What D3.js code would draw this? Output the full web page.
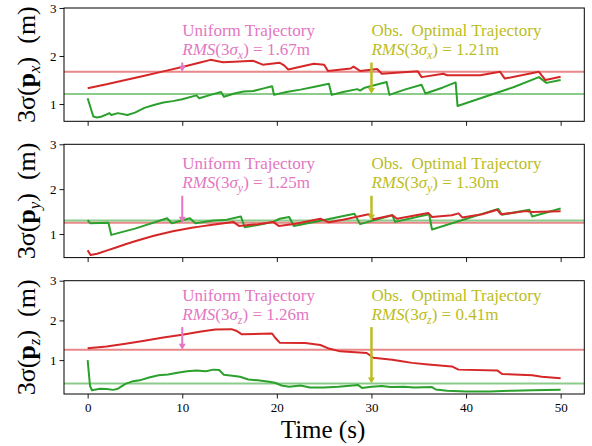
<!DOCTYPE html>
<html><head><meta charset="utf-8">
<script src="https://cdn.jsdelivr.net/npm/d3@7"></script>
<style>body{margin:0;background:#fff}</style>
</head><body><svg id="c" width="592" height="446"></svg>
<script>
// ---------- data ----------
const timeTicks = [0, 10, 20, 30, 40, 50];
const yTicks = [1, 2, 3];
const axisNames = ["x", "y", "z"];
const yMins = [0.64, 0.474, 0.146];
const rmsUniform = [1.67, 1.25, 1.26];
const rmsOptimal = [1.21, 1.30, 0.41];
const uniformLabel = "Uniform Trajectory";
const optimalLabel = "Obs.  Optimal Trajectory";
const annotTimes = [10, 30];

const uniformX = [[0,1.33],[2,1.41],[4,1.50],[6,1.59],[8,1.68],[10,1.77],[12,1.87],[13,1.92],[14.3,1.87],[15.5,1.88],[16.5,1.89],[17.5,1.90],[18.5,1.82],[20.3,1.86],[20.8,1.80],[21.2,1.72],[23.9,1.84],[25.0,1.82],[25.4,1.69],[27.8,1.74],[28.1,1.78],[28.8,1.69],[30.6,1.73],[31.1,1.63],[34.9,1.68],[35.3,1.56],[37.6,1.63],[38.0,1.60],[41.5,1.60],[43.6,1.67],[44.1,1.53],[47.7,1.67],[48.4,1.50],[50,1.57]];
const optimalX = [[0,1.12],[0.6,0.74],[1.0,0.72],[1.5,0.74],[2.3,0.81],[2.5,0.77],[3.2,0.81],[4.2,0.77],[5.0,0.82],[6.0,0.92],[7.0,0.98],[8.0,1.03],[9.0,1.06],[10.0,1.10],[11.5,1.18],[11.8,1.12],[13.0,1.19],[14.1,1.25],[14.4,1.15],[15.5,1.22],[16.5,1.26],[17.5,1.27],[18.5,1.32],[19.5,1.37],[19.7,1.19],[21.0,1.25],[22.5,1.30],[24.0,1.36],[25.5,1.42],[25.8,1.19],[27.0,1.25],[28.5,1.31],[28.8,1.28],[29.3,1.34],[30.5,1.40],[31.6,1.46],[31.9,1.19],[33.5,1.30],[35.3,1.40],[35.7,1.22],[37.5,1.34],[38.9,1.45],[39.1,0.96],[42,1.15],[45,1.35],[47.7,1.56],[48.5,1.44],[50,1.50]];

const uniformY = [[0,0.64],[0.3,0.53],[1,0.56],[2,0.63],[3,0.70],[4,0.77],[5,0.84],[6,0.90],[7,0.96],[8,1.01],[9,1.06],[10,1.10],[11,1.14],[12,1.17],[13,1.20],[14,1.23],[15.4,1.27],[16.0,1.18],[18,1.22],[19.6,1.27],[20.2,1.18],[22,1.23],[24.6,1.34],[25.5,1.26],[27,1.32],[28.6,1.39],[29.7,1.44],[30.2,1.33],[32.2,1.42],[32.7,1.34],[34,1.39],[36,1.47],[36.4,1.38],[38.5,1.42],[39.2,1.46],[39.6,1.37],[41.7,1.44],[43.3,1.54],[43.7,1.44],[46.3,1.51],[47,1.49],[50,1.51]];
const optimalY = [[0,1.31],[0.26,1.24],[2.2,1.25],[2.5,0.98],[5,1.12],[8.4,1.35],[8.9,1.24],[10.8,1.35],[11.4,1.24],[13.3,1.30],[14.5,1.31],[16.2,1.39],[16.6,1.15],[18.5,1.22],[19.6,1.27],[20.3,1.34],[21.3,1.38],[21.8,1.18],[25,1.31],[28.2,1.45],[28.8,1.22],[32.2,1.42],[32.5,1.27],[36.1,1.44],[36.4,1.10],[43.4,1.56],[43.8,1.43],[46.7,1.54],[47.0,1.39],[50,1.57]];

const uniformZ = [[0,1.30],[2,1.34],[4,1.41],[6,1.49],[8,1.57],[10,1.64],[12,1.72],[13.5,1.77],[15.2,1.78],[15.7,1.74],[16.3,1.65],[19.5,1.67],[19.8,1.57],[20.3,1.44],[23.0,1.43],[24.6,1.38],[25.5,1.29],[26.7,1.22],[29.5,1.18],[30.2,1.06],[32.2,1.01],[33.2,0.97],[34.3,0.93],[36,0.89],[38.5,0.84],[39.2,0.76],[43.3,0.74],[43.8,0.65],[47,0.62],[48,0.58],[50,0.54]];
const optimalZ = [[0,1.00],[0.25,0.35],[0.45,0.24],[1.3,0.28],[2.0,0.27],[2.7,0.25],[3.2,0.28],[4.0,0.40],[4.8,0.47],[5.5,0.49],[6.5,0.56],[7.5,0.62],[8.5,0.64],[9.5,0.68],[10.5,0.72],[11.5,0.74],[12.5,0.72],[13.3,0.76],[13.9,0.75],[14.4,0.63],[15.5,0.60],[16.1,0.58],[17,0.51],[18,0.49],[19,0.46],[19.8,0.43],[20.5,0.36],[21.3,0.33],[22.5,0.36],[23.5,0.31],[25,0.31],[26.5,0.33],[28.0,0.36],[28.6,0.37],[29.0,0.30],[30.0,0.33],[31.1,0.35],[32.0,0.32],[33.5,0.33],[34.5,0.31],[36.4,0.32],[36.8,0.26],[38,0.23],[40,0.21],[42.5,0.21],[45,0.23],[47,0.24],[50,0.25]];

const uniformSeries = [uniformX, uniformY, uniformZ];
const optimalSeries = [optimalX, optimalY, optimalZ];

// ---------- layout ----------
const FONT = "'Liberation Serif','Times New Roman',serif";
const C_RED = "#d62728", C_GREEN = "#2ca02c", C_PINK = "#e377c2", C_OLIVE = "#bcbd22";
const left = 64, right = 584.3, panelH = 113.3;
const panelTops = [8, 144.3, 280.7];

const svg = d3.select("#c");
const x = d3.scaleLinear().domain([-2.5, 52.5]).range([left, right]);

function rmsText(sel, axis, val) {
  sel.append("tspan").attr("font-style", "italic").text("RMS");
  sel.append("tspan").text("(3");
  sel.append("tspan").attr("font-style", "italic").text("σ");
  sel.append("tspan").attr("font-style", "italic").attr("font-size", "0.7em").attr("dy", 4).text(axis);
  sel.append("tspan").attr("dy", -4).text(") = " + val.toFixed(2) + "m");
}

function arrow(g, xp, y0, y1, color, w) {
  const head = 6;
  g.append("line").attr("x1", xp).attr("x2", xp).attr("y1", y0).attr("y2", y1 - head + 1)
    .attr("stroke", color).attr("stroke-width", w);
  g.append("path").attr("d", `M${xp-3.5},${y1-head}L${xp+3.5},${y1-head}L${xp},${y1}Z`).attr("fill", color);
}

panelTops.forEach((top, i) => {
  const y = d3.scaleLinear().domain([yMins[i], 3]).range([top + panelH, top]);
  const g = svg.append("g");

  // RMS horizontal lines
  [[rmsUniform[i], C_RED], [rmsOptimal[i], C_GREEN]].forEach(([v, c]) => {
    g.append("line").attr("x1", left).attr("x2", right).attr("y1", y(v)).attr("y2", y(v))
      .attr("stroke", c).attr("stroke-opacity", 0.55).attr("stroke-width", 2);
  });

  const line = d3.line().x(d => x(d[0])).y(d => y(d[1]));
  g.append("path").datum(optimalSeries[i]).attr("d", line).attr("fill", "none")
    .attr("stroke", C_GREEN).attr("stroke-width", 2).attr("stroke-linejoin", "round");
  g.append("path").datum(uniformSeries[i]).attr("d", line).attr("fill", "none")
    .attr("stroke", C_RED).attr("stroke-width", 2).attr("stroke-linejoin", "round");

  // annotations
  const base2 = y(2.02), base1 = base2 - 19;
  [[annotTimes[0], uniformLabel, rmsUniform[i], C_PINK, 2], [annotTimes[1], optimalLabel, rmsOptimal[i], C_OLIVE, 2.5]]
    .forEach(([t, lab, v, c, w]) => {
      g.append("text").attr("x", x(t)).attr("y", base1).attr("fill", c)
        .attr("font-family", FONT).attr("font-size", 17).style("white-space", "pre").text(lab);
      const tx = g.append("text").attr("x", x(t)).attr("y", base2).attr("fill", c)
        .attr("font-family", FONT).attr("font-size", 17);
      rmsText(tx, axisNames[i], v);
      arrow(g, x(t), base2 + 7.5, y(v), c, w);
    });

  // frame
  g.append("rect").attr("x", left).attr("y", top).attr("width", right - left).attr("height", panelH)
    .attr("fill", "none").attr("stroke", "#000").attr("stroke-width", 1);

  // axes
  const ya = g.append("g").attr("transform", `translate(${left},0)`)
    .call(d3.axisLeft(y).tickValues(yTicks).tickFormat(d3.format("d")).tickSize(4.5).tickPadding(3));
  const xa = g.append("g").attr("transform", `translate(0,${top + panelH})`)
    .call(d3.axisBottom(x).tickValues(timeTicks).tickFormat(i === 2 ? d3.format("d") : () => "").tickSize(4.5).tickPadding(4));
  [ya, xa].forEach(a => {
    a.attr("font-family", FONT);
    a.select(".domain").remove();
    a.selectAll("line").attr("stroke", "#000").attr("stroke-width", 0.9);
    a.selectAll("text").attr("font-family", FONT).attr("font-size", 13).attr("fill", "#000");
  });

  // y label
  const cy = top + panelH / 2;
  const lab = svg.append("text").attr("transform", `translate(35,${cy}) rotate(-90)`)
    .attr("text-anchor", "middle").attr("font-family", FONT).attr("font-size", 26).attr("fill", "#000");
  lab.append("tspan").text("3σ(");
  lab.append("tspan").attr("font-weight", "bold").text("p");
  lab.append("tspan").attr("font-style", "italic").attr("font-size", "0.65em").attr("dy", 5).text(axisNames[i]);
  lab.append("tspan").attr("dy", -5).style("white-space", "pre").text(")  (m)");
});

svg.append("text").attr("x", 323).attr("y", 438).attr("text-anchor", "middle")
  .attr("font-family", FONT).attr("font-size", 25).attr("fill", "#000").text("Time (s)");
</script>
</body></html>
